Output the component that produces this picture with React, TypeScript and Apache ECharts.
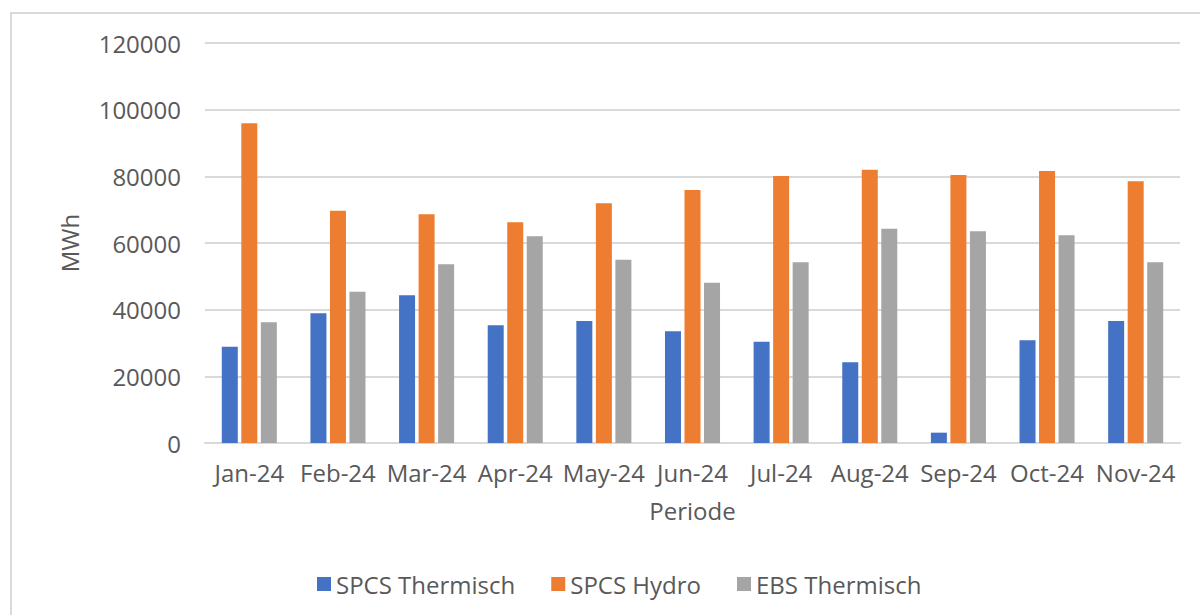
import React, { useEffect, useRef } from "react";
import * as echarts from "echarts";

const categories = ["Jan-24", "Feb-24", "Mar-24", "Apr-24", "May-24", "Jun-24", "Jul-24", "Aug-24", "Sep-24", "Oct-24", "Nov-24"];
const spcsThermisch = [28900, 38900, 44300, 35300, 36600, 33500, 30400, 24200, 3100, 30800, 36600];
const spcsHydro = [95900, 69700, 68600, 66200, 71900, 75900, 80100, 82000, 80400, 81600, 78500];
const ebsThermisch = [36200, 45400, 53600, 62000, 55000, 48100, 54200, 64300, 63500, 62300, 54200];
const seriesNames = ["SPCS Thermisch", "SPCS Hydro", "EBS Thermisch"];
const colors = ["#4472C4", "#ED7D31", "#A5A5A5"];

const FONT = "'Open Sans', 'Noto Sans', sans-serif";
const TXT = "#595959";

export default function App() {
  const ref = useRef<HTMLDivElement>(null);
  useEffect(() => {
    if (!ref.current) return;
    const chart = echarts.init(ref.current, null, { renderer: "svg" });
    const mk = (name: string, data: number[], color: string) => ({
      name,
      type: "bar",
      data,
      barWidth: 16,
      barGap: "22%",
      itemStyle: { color },
    });
    chart.setOption({
      animation: false,
      backgroundColor: "#ffffff",
      textStyle: { fontFamily: FONT },
      graphic: [
        {
          type: "rect",
          shape: { x: 11, y: 13, width: 1300, height: 800 },
          style: { fill: "none", stroke: "#D9D9D9", lineWidth: 2 },
          silent: true,
        },
      ],
      grid: { left: 205, right: 20, top: 43, bottom: 172, containLabel: false },
      legend: {
        data: seriesNames,
        left: 312,
        top: 567,
        itemWidth: 14,
        itemHeight: 14,
        itemGap: 36,
        icon: "rect",
        textStyle: { color: TXT, fontSize: 24, fontFamily: FONT },
      },
      xAxis: {
        type: "category",
        data: categories,
        name: "Periode",
        nameLocation: "middle",
        nameGap: 55,
        nameTextStyle: { color: TXT, fontSize: 24, fontFamily: FONT },
        axisLine: { show: true, lineStyle: { color: "#D9D9D9", width: 2 } },
        axisTick: { show: false },
        axisLabel: { color: TXT, fontSize: 24, fontFamily: FONT, margin: 17, interval: 0 },
      },
      yAxis: {
        type: "value",
        min: 0,
        max: 120000,
        interval: 20000,
        name: "MWh",
        nameLocation: "middle",
        nameGap: 124,
        nameTextStyle: { color: TXT, fontSize: 24, fontFamily: FONT },
        axisLine: { show: false },
        axisTick: { show: false },
        axisLabel: {
          color: TXT,
          fontSize: 24,
          fontFamily: FONT,
          margin: 24,
          formatter: (v: number) => String(v),
        },
        splitLine: { lineStyle: { color: "#D9D9D9", width: 2 } },
      },
      series: [
        mk(seriesNames[0], spcsThermisch, colors[0]),
        mk(seriesNames[1], spcsHydro, colors[1]),
        mk(seriesNames[2], ebsThermisch, colors[2]),
      ],
    });
    return () => chart.dispose();
  }, []);
  return (
    <div
      ref={ref}
      style={{ position: "absolute", left: 0, top: 0, width: 1200, height: 615 }}
    />
  );
}
